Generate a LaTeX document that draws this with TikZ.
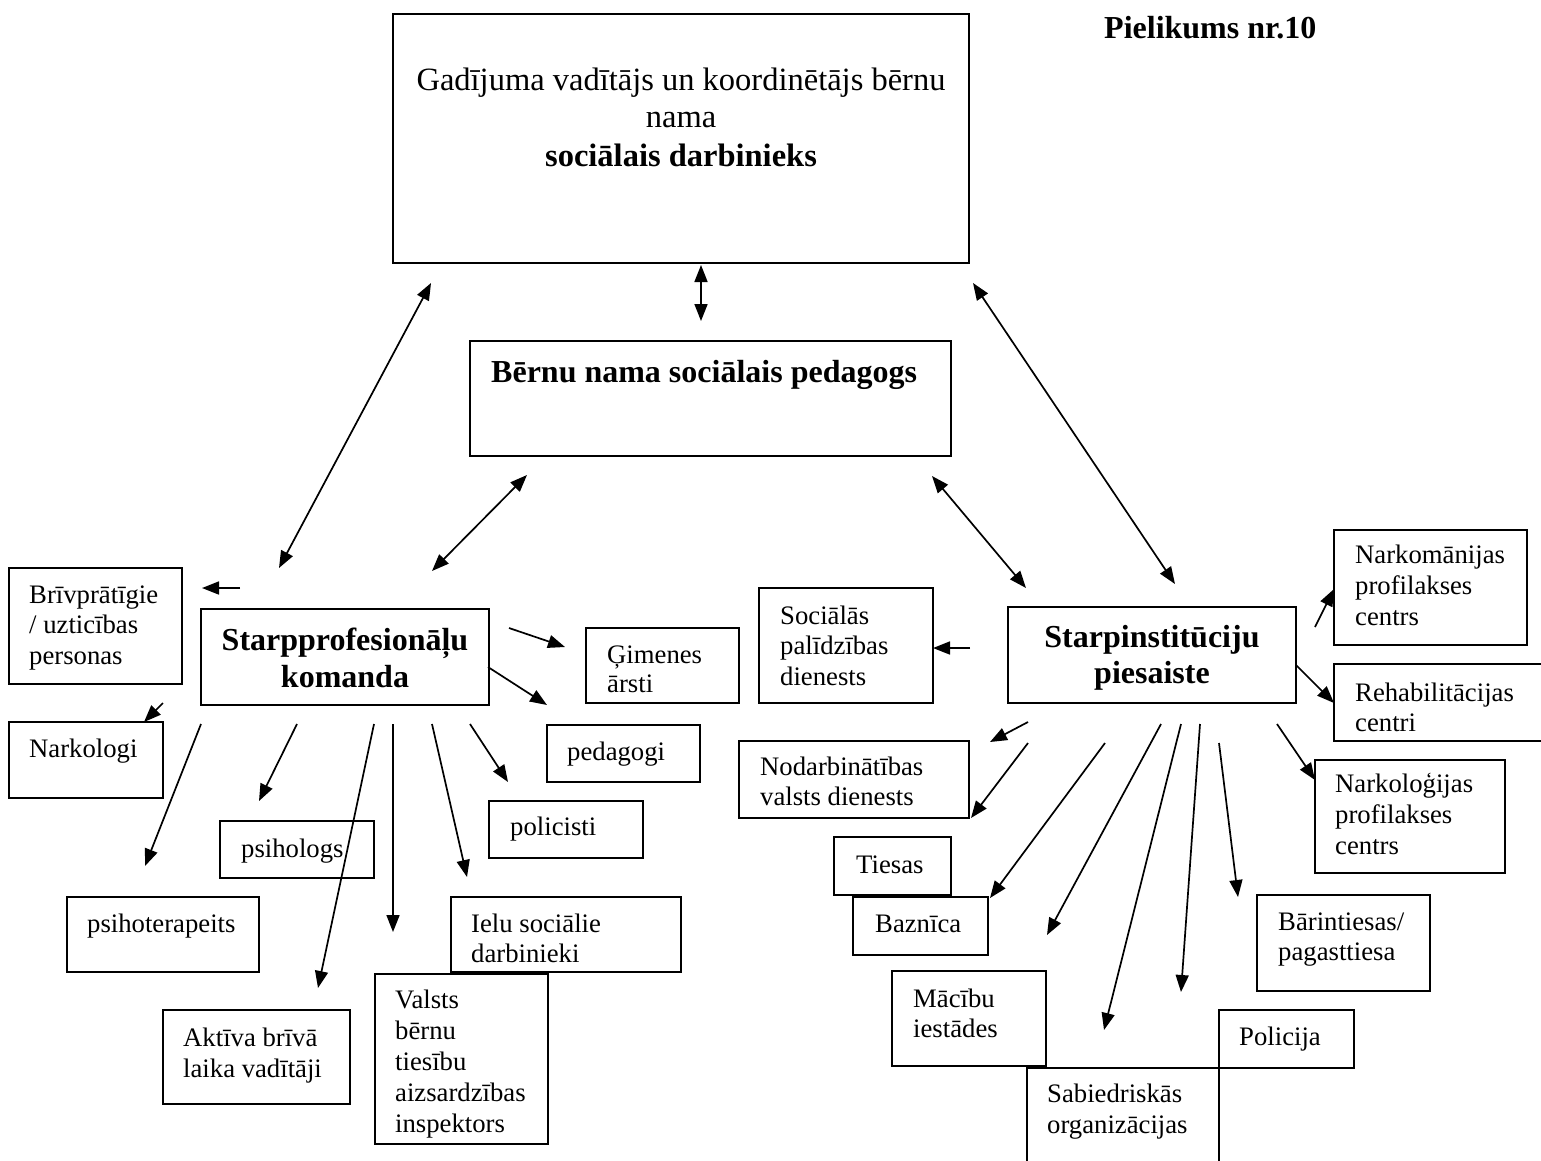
\documentclass[tikz,border=0pt]{standalone}
\usepackage{fontspec}
\setmainfont{Liberation Serif}
\usetikzlibrary{arrows.meta}
\tikzset{
  boxst/.style={draw, line width=2pt, inner sep=0pt},
  txt/.style={inner sep=0pt, font=\fontsize{26.7pt}{31pt}\selectfont, anchor=base west},
  bigtxt/.style={inner sep=0pt, font=\fontsize{32.5pt}{38pt}\selectfont, anchor=base},
  btxt/.style={inner sep=0pt, font=\fontsize{32pt}{38pt}\selectfont\bfseries, anchor=base},
  arr/.style={line width=1.7pt, -{Triangle[length=17pt,width=13pt]}},
  darr/.style={line width=1.7pt, {Triangle[length=17pt,width=13pt]}-{Triangle[length=17pt,width=13pt]}},
}
\newcommand\mybx[5]{\node[boxst, minimum width={(#4)-(#2)}, minimum height={(#5)-(#3)}] (#1) at ({((#2)+(#4))/2},{((#3)+(#5))/2}) {};}
\newcommand\mytl[4]{\node[txt] (#1) at (#2,#3) {#4};}
\begin{document}
\begin{tikzpicture}[x=1pt,y=-1pt]
\useasboundingbox (0,0) rectangle (1541,1160);
\clip (0,0) rectangle (1541,1160);
\fill[white] (0,0) rectangle (1541,1160);

% ---------- boxes ----------
\mybx{main}{393}{14}{969}{263}
\mybx{ped}{470}{341}{951}{456}
\mybx{sp}{201}{609}{489}{705}
\mybx{briv}{9}{568}{182}{684}
\mybx{nark}{9}{722}{163}{798}
\mybx{gim}{586}{628}{739}{703}
\mybx{pedag}{547}{725}{700}{782}
\mybx{polic}{489}{801}{643}{858}
\mybx{psih}{220}{821}{374}{878}
\mybx{psiht}{67}{897}{259}{972}
\mybx{ielu}{451}{897}{681}{972}
\mybx{valsts}{375}{974}{548}{1144}
\mybx{aktiva}{163}{1010}{350}{1104}
\mybx{soc}{759}{588}{933}{703}
\mybx{si}{1008}{607}{1296}{703}
\mybx{narkom}{1334}{530}{1527}{645}
\mybx{rehab}{1334}{664}{1560}{741}
\mybx{narkol}{1315}{760}{1505}{873}
\mybx{nodarb}{739}{741}{969}{818}
\mybx{tiesas}{834}{837}{951}{895}
\mybx{bazn}{853}{897}{988}{955}
\mybx{macibu}{892}{971}{1046}{1066}
\mybx{sabied}{1027}{1068}{1219}{1185}
\mybx{policija}{1219}{1010}{1354}{1068}
\mybx{barin}{1257}{895}{1430}{991}

% ---------- texts ----------
\node[bigtxt] (tm1) at (681,90) {Gadījuma vadītājs un koordinētājs bērnu};
\node[bigtxt] (tm2) at (681,127) {nama};
\node[bigtxt, font=\fontsize{32.5pt}{38pt}\selectfont\bfseries] (tm3) at (681,166) {sociālais darbinieks};
\node[btxt, anchor=base west] (tpiel) at (1104,38) {Pielikums nr.10};
\node[btxt, anchor=base west] (tped) at (491,382) {Bērnu nama sociālais pedagogs};
\node[btxt] (tsp1) at (345,650) {Starpprofesionāļu};
\node[btxt] (tsp2) at (345,687) {komanda};
\node[btxt] (tsi1) at (1152,647) {Starpinstitūciju};
\node[btxt] (tsi2) at (1152,683) {piesaiste};

\mytl{tbr1}{29}{603}{Brīvprātīgie}
\mytl{tbr2}{29}{633}{/ uzticības}
\mytl{tbr3}{29}{664}{personas}
\mytl{tnk}{29}{757}{Narkologi}
\mytl{tgi1}{607}{663}{Ģimenes}
\begin{scope}
\clip (586,600) rectangle (739,694);
\mytl{tgi2}{607}{692}{ārsti}
\end{scope}
\mytl{tpg}{567}{760}{pedagogi}
\mytl{tpo}{510}{835}{policisti}
\mytl{tps}{241}{857}{psihologs}
\mytl{tpt}{87}{932}{psihoterapeits}
\mytl{tie1}{471}{932}{Ielu sociālie}
\begin{scope}
\clip (451,940) rectangle (681,963);
\mytl{tie2}{471}{962}{darbinieki}
\end{scope}
\mytl{tva1}{395}{1008}{Valsts}
\mytl{tva2}{395}{1039}{bērnu}
\mytl{tva3}{395}{1070}{tiesību}
\mytl{tva4}{395}{1101}{aizsardzības}
\mytl{tva5}{395}{1132}{inspektors}
\mytl{tak1}{183}{1046}{Aktīva brīvā}
\mytl{tak2}{183}{1077}{laika vadītāji}

\mytl{tso1}{780}{624}{Sociālās}
\mytl{tso2}{780}{654}{palīdzības}
\mytl{tso3}{780}{685}{dienests}
\mytl{tnm1}{1355}{563}{Narkomānijas}
\mytl{tnm2}{1355}{594}{profilakses}
\mytl{tnm3}{1355}{625}{centrs}
\mytl{tre1}{1355}{701}{Rehabilitācijas}
\mytl{tre2}{1355}{731}{centri}
\mytl{tnl1}{1335}{792}{Narkoloģijas}
\mytl{tnl2}{1335}{823}{profilakses}
\mytl{tnl3}{1335}{854}{centrs}
\mytl{tno1}{760}{775}{Nodarbinātības}
\mytl{tno2}{760}{805}{valsts dienests}
\mytl{tti}{856}{873}{Tiesas}
\mytl{tba}{875}{932}{Baznīca}
\mytl{tmc1}{913}{1007}{Mācību}
\mytl{tmc2}{913}{1037}{iestādes}
\mytl{tsa1}{1047}{1102}{Sabiedriskās}
\mytl{tsa2}{1047}{1133}{organizācijas}
\mytl{tpl}{1239}{1045}{Policija}
\mytl{tbt1}{1278}{930}{Bārintiesas/}
\mytl{tbt2}{1278}{960}{pagasttiesa}

% ---------- arrow end points ----------
\coordinate (a1a) at (431,283);  \coordinate (a1b) at (279,568);
\coordinate (a2a) at (701,265);  \coordinate (a2b) at (701,321);
\coordinate (a3a) at (973,283);  \coordinate (a3b) at (1175,584);
\coordinate (a4a) at (527,475);  \coordinate (a4b) at (432,571);
\coordinate (a5a) at (932,476);  \coordinate (a5b) at (1026,588);

\coordinate (b1a) at (240,588);  \coordinate (b1b) at (202,588);
\coordinate (b2a) at (163,703);  \coordinate (b2b) at (144,722);
\coordinate (b3a) at (201,724);  \coordinate (b3b) at (145,866);
\coordinate (b4a) at (297,724);  \coordinate (b4b) at (259,801);
\coordinate (b5a) at (374,724);  \coordinate (b5b) at (318,988);
\coordinate (b6a) at (393,724);  \coordinate (b6b) at (393,932);
\coordinate (b7a) at (432,724);  \coordinate (b7b) at (467,877);
\coordinate (b8a) at (470,724);  \coordinate (b8b) at (508,782);
\coordinate (b9a) at (509,628);  \coordinate (b9b) at (565,647);
\coordinate (b10a) at (488,667); \coordinate (b10b) at (547,705);

\coordinate (c1a) at (970,648);  \coordinate (c1b) at (933,648);
\coordinate (c2a) at (1315,627); \coordinate (c2b) at (1334,589);
\coordinate (c3a) at (1296,665); \coordinate (c3b) at (1334,703);
\coordinate (c4a) at (1277,724); \coordinate (c4b) at (1315,780);
\coordinate (c5a) at (1028,722); \coordinate (c5b) at (990,742);
\coordinate (c6a) at (1028,743); \coordinate (c6b) at (971,818);
\coordinate (c7a) at (1105,743); \coordinate (c7b) at (990,898);
\coordinate (c8a) at (1161,724); \coordinate (c8b) at (1047,935);
\coordinate (c9a) at (1181,724); \coordinate (c9b) at (1104,1030);
\coordinate (c10a) at (1200,724); \coordinate (c10b) at (1181,992);
\coordinate (c11a) at (1219,743); \coordinate (c11b) at (1238,897);

% ---------- connectors ----------
\draw[darr] (a1a) -- (a1b);
\draw[darr] (a2a) -- (a2b);
\draw[darr] (a3a) -- (a3b);
\draw[darr] (a4a) -- (a4b);
\draw[darr] (a5a) -- (a5b);

\foreach \n in {b1,b2,b3,b4,b5,b6,b7,b8,b9,b10,c1,c2,c3,c4,c5,c6,c7,c8,c9,c10,c11}
  \draw[arr] (\n a) -- (\n b);
\end{tikzpicture}
\end{document}
